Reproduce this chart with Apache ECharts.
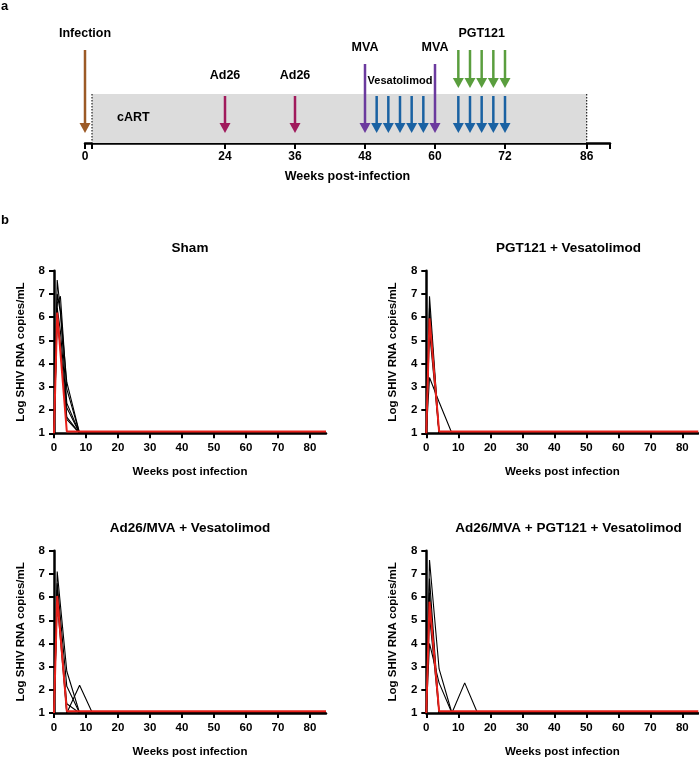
<!DOCTYPE html>
<html>
<head>
<meta charset="utf-8">
<script src="https://cdn.jsdelivr.net/npm/echarts@6/dist/echarts.min.js"></script>
<style>
  html, body { margin: 0; padding: 0; background: #fff; }
  #chart { width: 699px; height: 759px; }
</style>
</head>
<body>
<div id="chart"></div>
<script>
// ---- panel a : timeline ----
var infectionWeeks = [0];
var ad26Weeks = [24, 36];
var mvaWeeks = [48, 60];
var vesatolimodWeeks = [50, 52, 54, 56, 58, 64, 66, 68, 70, 72];
var pgt121Weeks = [64, 66, 68, 70, 72];
var cartRange = [1.2, 86];
var timelineTicks = [0, 1.2, 24, 36, 48, 60, 72, 86, 90];
var timelineLabels = [0, 24, 36, 48, 60, 72, 86];
var eventNames = ['Infection', 'Ad26', 'Ad26', 'MVA', 'MVA', 'Vesatolimod', 'PGT121', 'cART'];
var eventWeeks = [0, 24, 36, 48, 60, 54, 68, 8.3];

// ---- panel b : viral loads (log SHIV RNA copies/mL) ----
var weeks = [0, 1, 2, 4, 8, 12, 16, 85];
var shamAnimals = [
  [1, 7.6, 6.3, 3.2, 1, 1, 1, 1],
  [1, 6.6, 6.9, 2.9, 1, 1, 1, 1],
  [1, 7.0, 6.2, 2.3, 1, 1, 1, 1],
  [1, 6.4, 5.4, 2.1, 1, 1, 1, 1],
  [1, 5.9, 4.8, 1.7, 1, 1, 1, 1],
  [1, 6.1, null, 1.6, 1, 1, 1, 1]
];
var shamMedian = [1, 6.2, null, 1.08, 1.08, 1.08, 1.08, 1.08];

var pgtVesAnimals = [
  [1, 6.9, null, 1, 1, 1, 1, 1],
  [1, 6.4, null, 1, 1, 1, 1, 1],
  [1, 6.0, null, 1, 1, 1, 1, 1],
  [1, 5.4, null, 1, 1, 1, 1, 1],
  [1, 3.4, null, 2.35, 1, 1, 1, 1]
];
var pgtVesMedian = [1, 5.95, null, 1.08, 1.08, 1.08, 1.08, 1.08];

var vacVesAnimals = [
  [1, 7.1, null, 2.8, 1, 1, 1, 1],
  [1, 6.6, null, 2.15, 1, 1, 1, 1],
  [1, 6.3, null, 1, 2.2, 1, 1, 1],
  [1, 5.8, null, 1, 1, 1, 1, 1],
  [1, 6.0, null, 1.4, 1, 1, 1, 1]
];
var vacVesMedian = [1, 6.05, null, 1.08, 1.08, 1.08, 1.08, 1.08];

var vacPgtVesAnimals = [
  [1, 7.6, null, 2.9, 1, 1, 1, 1],
  [1, 4.0, null, 2.3, 1, 2.3, 1, 1],
  [1, 6.8, null, 1, 1, 1, 1, 1],
  [1, 6.2, null, 1, 1, 1, 1, 1],
  [1, 5.2, null, 1, 1, 1, 1, 1]
];
var vacPgtVesMedian = [1, 5.8, null, 1.08, 1.08, 1.08, 1.08, 1.08];

var panelTitles = ['Sham', 'PGT121 + Vesatolimod', 'Ad26/MVA + Vesatolimod', 'Ad26/MVA + PGT121 + Vesatolimod'];
var panelAnimals = [shamAnimals, pgtVesAnimals, vacVesAnimals, vacPgtVesAnimals];
var panelMedians = [shamMedian, pgtVesMedian, vacVesMedian, vacPgtVesMedian];

var FONT = 'Liberation Sans, Arial, Helvetica, sans-serif';
var chart = echarts.init(document.getElementById('chart'));

function toPairs(vals) {
  return weeks.map(function (w, i) { return [w, vals[i]]; });
}

// arrow pointing down, top/bottom are heights above the timeline axis
function arrowSeries(name, data, color, top, bottom) {
  return {
    name: name,
    type: 'custom',
    xAxisIndex: 0,
    yAxisIndex: 0,
    data: data,
    z: 5,
    renderItem: function (params, api) {
      var w = api.value(0);
      var p1 = api.coord([w, top]);
      var p2 = api.coord([w, bottom]);
      var head = 10, half = 5.5;
      return {
        type: 'group',
        children: [{
          type: 'line',
          shape: { x1: p1[0], y1: p1[1], x2: p2[0], y2: p2[1] - head + 1 },
          style: { stroke: color, lineWidth: 2.5 }
        }, {
          type: 'polygon',
          shape: { points: [[p2[0] - half, p2[1] - head], [p2[0] + half, p2[1] - head], [p2[0], p2[1]]] },
          style: { fill: color }
        }]
      };
    }
  };
}

var grids = [{ left: 85, top: 20, width: 525, height: 123 }];
var xAxes = [{
  gridIndex: 0, type: 'value', min: 0, max: 90,
  axisLine: { lineStyle: { color: '#000', width: 2.5 } },
  axisTick: { customValues: timelineTicks, length: 6, lineStyle: { color: '#000', width: 2 } },
  axisLabel: { customValues: timelineLabels, color: '#000', fontWeight: 'bold', fontSize: 12, fontFamily: FONT, margin: 8 },
  splitLine: { show: false },
  name: 'Weeks post-infection', nameLocation: 'middle', nameGap: 27,
  nameTextStyle: { color: '#000', fontWeight: 'bold', fontSize: 12.5, fontFamily: FONT }
}];
var yAxes = [{ gridIndex: 0, type: 'value', min: 0, max: 123, show: false }];

var series = [];
// cART box
series.push({
  type: 'custom', xAxisIndex: 0, yAxisIndex: 0, z: 1,
  data: [cartRange],
  renderItem: function (params, api) {
    var a = api.coord([api.value(0), 49]);
    var b = api.coord([api.value(1), 0]);
    return {
      type: 'group',
      children: [{
        type: 'rect', shape: { x: a[0], y: a[1], width: b[0] - a[0], height: b[1] - a[1] },
        style: { fill: '#dcdcdc' }
      }, {
        type: 'line', shape: { x1: a[0], y1: a[1], x2: a[0], y2: b[1] },
        style: { stroke: '#222', lineWidth: 1.2, lineDash: [1.5, 1.5] }
      }, {
        type: 'line', shape: { x1: b[0], y1: a[1], x2: b[0], y2: b[1] },
        style: { stroke: '#222', lineWidth: 1.2, lineDash: [1.5, 1.5] }
      }]
    };
  }
});
series.push(arrowSeries('Infection', infectionWeeks, '#9c5a26', 93, 10));
series.push(arrowSeries('Ad26', ad26Weeks, '#a01a5c', 47, 10));
series.push(arrowSeries('MVA', mvaWeeks, '#6b3a9e', 79, 10));
series.push(arrowSeries('Vesatolimod', vesatolimodWeeks, '#1a62a3', 47, 10));
series.push(arrowSeries('PGT121', pgt121Weeks, '#5a9e3e', 93, 55));
// event labels
var labelHeights = [109, 67, 67, 95, 95, 62, 109, 25];
series.push({
  type: 'custom', xAxisIndex: 0, yAxisIndex: 0, z: 6,
  data: eventWeeks,
  renderItem: function (params, api) {
    var i = params.dataIndex;
    var p = api.coord([api.value(0), labelHeights[i]]);
    return {
      type: 'text',
      style: {
        text: eventNames[i], x: p[0], y: p[1], align: 'center', verticalAlign: 'middle',
        fill: '#000', font: 'bold ' + (eventNames[i] === 'Vesatolimod' ? 11 : 12.5) + 'px ' + FONT
      }
    };
  }
});

// ---- four viral load panels ----
var panelLeft = [54, 426.3, 54, 426.3];
var panelTop = [270.7, 270.7, 550.7, 550.7];
var titleX = [190, 568.5, 190, 568.5];
var titles = [
  { text: 'a', left: 1, top: 0, padding: 0, textStyle: { fontSize: 13, fontWeight: 'bold', fontFamily: FONT, color: '#000' } },
  { text: 'b', left: 1, top: 214, padding: 0, textStyle: { fontSize: 13, fontWeight: 'bold', fontFamily: FONT, color: '#000' } }
];

for (var k = 0; k < 4; k++) {
  var gi = k + 1;
  grids.push({ left: panelLeft[k], top: panelTop[k], width: 272, height: 162.6 });
  titles.push({
    text: panelTitles[k], left: titleX[k], top: panelTop[k] - 29.5, textAlign: 'center', padding: 0,
    textStyle: { fontSize: 13.5, fontWeight: 'bold', fontFamily: FONT, color: '#000' }
  });
  xAxes.push({
    gridIndex: gi, type: 'value', min: 0, max: 85, interval: 10,
    axisLine: { onZero: false, lineStyle: { color: '#000', width: 2.5 } },
    axisTick: { length: 5, lineStyle: { color: '#000', width: 2 } },
    axisLabel: { color: '#000', fontWeight: 'bold', fontSize: 11.5, fontFamily: FONT, margin: 9, showMaxLabel: false },
    splitLine: { show: false },
    name: 'Weeks post infection', nameLocation: 'middle', nameGap: 33,
    nameTextStyle: { color: '#000', fontWeight: 'bold', fontSize: 11.5, fontFamily: FONT }
  });
  yAxes.push({
    gridIndex: gi, type: 'value', min: 1, max: 8, interval: 1,
    axisLine: { show: true, onZero: false, lineStyle: { color: '#000', width: 2.5 } },
    axisTick: { show: true, length: 5, lineStyle: { color: '#000', width: 2 } },
    axisLabel: { color: '#000', fontWeight: 'bold', fontSize: 11.5, fontFamily: FONT, margin: 9 },
    splitLine: { show: false },
    name: 'Log SHIV RNA copies/mL', nameLocation: 'middle', nameGap: 27, nameRotate: 90,
    nameTextStyle: { color: '#000', fontWeight: 'bold', fontSize: 11.5, fontFamily: FONT }
  });
  panelAnimals[k].forEach(function (vals) {
    series.push({
      type: 'line', xAxisIndex: gi, yAxisIndex: gi, data: toPairs(vals),
      connectNulls: true, symbol: 'none', silent: true, clip: false, z: 2,
      lineStyle: { color: '#000', width: 1.1 }
    });
  });
  series.push({
    type: 'line', xAxisIndex: gi, yAxisIndex: gi, data: toPairs(panelMedians[k]),
    connectNulls: true, symbol: 'none', silent: true, clip: false, z: 3,
    lineStyle: { color: '#e8201a', width: 2 }
  });
}

chart.setOption({
  animation: false,
  backgroundColor: '#fff',
  textStyle: { fontFamily: FONT },
  title: titles,
  grid: grids,
  xAxis: xAxes,
  yAxis: yAxes,
  series: series
});
</script>
</body>
</html>
